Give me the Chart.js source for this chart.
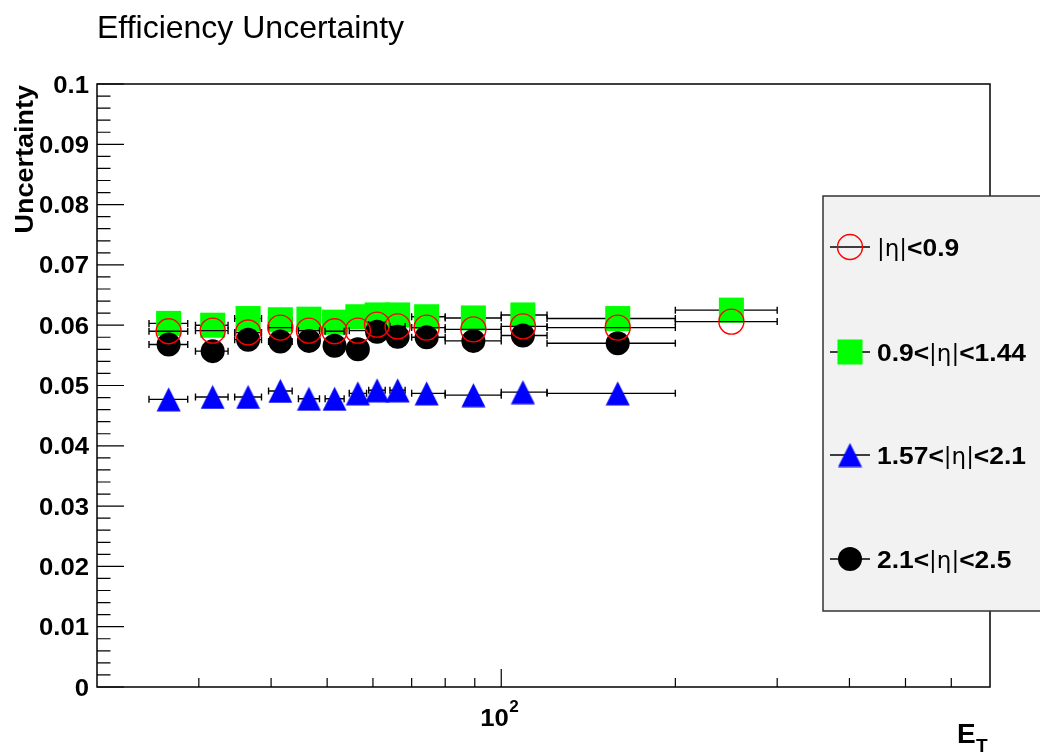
<!DOCTYPE html>
<html>
<head>
<meta charset="utf-8">
<title>Efficiency Uncertainty</title>
<script src="https://cdn.jsdelivr.net/npm/chart.js@4.4.0/dist/chart.umd.min.js"></script>
<style>
  html, body { margin: 0; padding: 0; background: #fff; }
  #wrap { width: 1040px; height: 755px; }
</style>
</head>
<body>
<div id="wrap"><canvas id="effChart" width="1040" height="755"></canvas></div>
<script>
// E_T bins: point position and the ends of the horizontal error bar
const etCenter = [26.6, 31.7, 36.5, 41.5, 46.5, 51.5, 56.5, 61, 66.2, 74.3, 89.5, 109, 159, 250];
const etLow    = [24.6, 29.6, 34.6, 39.6, 44.6, 49.6, 54.6, 59, 64.2, 70, 80, 100, 120, 200];
const etHigh   = [28.7, 33.7, 38.5, 43.5, 48.5, 53.5, 58.5, 63, 68.2, 80, 100, 120, 200, 300];

// efficiency uncertainty per eta region
const uncEtaLt09    = [0.0590, 0.0591, 0.0588, 0.0596, 0.0591, 0.0590, 0.0591, 0.0601, 0.0598, 0.0596, 0.0593, 0.0598, 0.0596, 0.0606];
const uncEta09to144 = [0.0603, 0.0600, 0.0611, 0.0609, 0.0610, 0.0605, 0.0614, 0.0617, 0.0617, 0.0614, 0.0612, 0.0617, 0.0611, 0.0625];
const uncEta157to21 = [0.0477, 0.0481, 0.0481, 0.0491, 0.0478, 0.0478, 0.0487, 0.0492, 0.0492, 0.0487, 0.0484, 0.0489, 0.0487];
const uncEta21to25  = [0.0568, 0.0557, 0.0576, 0.0573, 0.0574, 0.0566, 0.0560, 0.0589, 0.0581, 0.0580, 0.0574, 0.0583, 0.0570];

const seriesLabels = ['|η|<0.9', '0.9<|η|<1.44', '1.57<|η|<2.1', '2.1<|η|<2.5'];

// axis ticks
const xTickValues = [30, 40, 50, 60, 70, 80, 90, 100, 200, 300, 400, 500, 600];
const xMajorTicks = [100];
const yMajorLabels = ['0', '0.01', '0.02', '0.03', '0.04', '0.05', '0.06', '0.07', '0.08', '0.09', '0.1'];

const BOLD = '"Liberation Sans", Arial, sans-serif';
const STRETCH = 1.07;

// blue ROOT-style triangle marker
const triangleMarker = (() => {
  const c = document.createElement('canvas');
  c.width = 25; c.height = 25;
  const g = c.getContext('2d');
  g.fillStyle = '#0000ff';
  g.beginPath();
  g.moveTo(12.5, 0.5);
  g.lineTo(24.5, 24.5);
  g.lineTo(0.5, 24.5);
  g.closePath();
  g.fill();
  return c;
})();

function toPoints(values) {
  return values.map((v, i) => ({ x: etCenter[i], y: v, xMin: etLow[i], xMax: etHigh[i] }));
}

function drawStretched(ctx, text, x, y, font, align, sx) {
  ctx.save();
  ctx.font = font;
  ctx.translate(x, y);
  ctx.scale(sx, 1);
  ctx.textAlign = align;
  ctx.textBaseline = 'alphabetic';
  ctx.fillText(text, 0, 0);
  ctx.restore();
}

function drawMarker(ctx, ds, x, y) {
  const st = ds.pointStyle;
  const r = ds.pointRadius;
  ctx.save();
  if (st instanceof HTMLCanvasElement) {
    ctx.drawImage(st, x - st.width / 2, y - st.height / 2);
  } else if (st === 'rect') {
    const s = r * Math.SQRT1_2;
    ctx.fillStyle = ds.pointBackgroundColor;
    ctx.fillRect(x - s, y - s, 2 * s, 2 * s);
  } else {
    ctx.beginPath();
    ctx.arc(x, y, r, 0, Math.PI * 2);
    if (ds.pointBackgroundColor !== 'transparent') {
      ctx.fillStyle = ds.pointBackgroundColor;
      ctx.fill();
    }
    if (ds.pointBorderWidth > 0) {
      ctx.lineWidth = ds.pointBorderWidth;
      ctx.strokeStyle = ds.pointBorderColor;
      ctx.stroke();
    }
  }
  ctx.restore();
}

const rootStyle = {
  id: 'rootStyle',
  beforeDraw(chart) {
    const ctx = chart.ctx;
    ctx.save();
    ctx.fillStyle = '#fff';
    ctx.fillRect(0, 0, chart.width, chart.height);
    ctx.restore();
  },
  // horizontal error bars, drawn under each graph's markers
  beforeDatasetDraw(chart, args) {
    const ctx = chart.ctx;
    const xs = chart.scales.x;
    const ds = chart.data.datasets[args.index];
    ctx.save();
    ctx.strokeStyle = '#000';
    ctx.lineWidth = 1.4;
    args.meta.data.forEach((el, i) => {
      const p = ds.data[i];
      const x0 = xs.getPixelForValue(p.xMin);
      const x1 = xs.getPixelForValue(p.xMax);
      const y = el.y;
      ctx.beginPath();
      ctx.moveTo(x0, y); ctx.lineTo(x1, y);
      ctx.moveTo(x0, y - 3.5); ctx.lineTo(x0, y + 3.5);
      ctx.moveTo(x1, y - 3.5); ctx.lineTo(x1, y + 3.5);
      ctx.stroke();
    });
    ctx.restore();
  },
  afterDatasetsDraw(chart) {
    const ctx = chart.ctx;
    const a = chart.chartArea;
    const xs = chart.scales.x;
    const ys = chart.scales.y;
    ctx.save();
    ctx.strokeStyle = '#000';
    ctx.lineWidth = 1.5;
    ctx.strokeRect(a.left, a.top, a.right - a.left, a.bottom - a.top);
    ctx.lineWidth = 1.2;
    ctx.beginPath();
    xs.ticks.forEach(t => {
      const px = xs.getPixelForValue(t.value);
      const len = xMajorTicks.includes(t.value) ? 18 : 9;
      ctx.moveTo(px, a.bottom);
      ctx.lineTo(px, a.bottom - len);
    });
    ys.ticks.forEach(t => {
      const py = ys.getPixelForValue(t.value);
      const major = Math.round(t.value * 1000) % 10 === 0;
      ctx.moveTo(a.left, py);
      ctx.lineTo(a.left + (major ? 27 : 13.5), py);
    });
    ctx.stroke();
    ctx.restore();
  },
  afterDraw(chart) {
    const ctx = chart.ctx;
    const a = chart.chartArea;
    const xs = chart.scales.x;
    const ys = chart.scales.y;
    ctx.save();
    ctx.fillStyle = '#000';

    // title
    ctx.font = '32px ' + BOLD;
    ctx.textAlign = 'left';
    ctx.fillText('Efficiency Uncertainty', 97, 38);

    // y tick labels
    yMajorLabels.forEach(lbl => {
      const py = ys.getPixelForValue(parseFloat(lbl));
      drawStretched(ctx, lbl, 89, py + 8.5, 'bold 24px ' + BOLD, 'right', STRETCH);
    });

    // x tick label 10^2
    const p100 = xs.getPixelForValue(100);
    drawStretched(ctx, '10', p100 - 21, 726, 'bold 24px ' + BOLD, 'left', STRETCH);
    drawStretched(ctx, '2', p100 + 8, 712, 'bold 16px ' + BOLD, 'left', STRETCH);

    // axis titles
    drawStretched(ctx, 'E', 957, 743, 'bold 28px ' + BOLD, 'left', 1.0);
    drawStretched(ctx, 'T', 976, 752, 'bold 19px ' + BOLD, 'left', 1.0);

    ctx.save();
    ctx.translate(33, a.top + 1);
    ctx.rotate(-Math.PI / 2);
    ctx.scale(1.08, 1);
    ctx.font = 'bold 25px ' + BOLD;
    ctx.textAlign = 'right';
    ctx.fillText('Uncertainty', 0, 0);
    ctx.restore();

    // legend box
    ctx.fillStyle = '#f2f2f2';
    ctx.fillRect(823, 196, 300, 415);
    ctx.strokeStyle = '#333';
    ctx.lineWidth = 1.5;
    ctx.strokeRect(823, 196, 300, 415);

    const rows = [247, 352, 455, 559];
    const byLabel = {};
    chart.data.datasets.forEach(ds => { byLabel[ds.label] = ds; });
    seriesLabels.forEach((lbl, k) => {
      const ds = byLabel[lbl];
      const y = rows[k];
      ctx.strokeStyle = '#000';
      ctx.lineWidth = 1.4;
      ctx.beginPath();
      ctx.moveTo(830, y); ctx.lineTo(870, y);
      ctx.stroke();
      drawMarker(ctx, ds, 850, y);

      let x = 877;
      ctx.fillStyle = '#000';
      lbl.split(/(\|η\|)/).forEach(part => {
        if (!part) return;
        const font = part === '|η|' ? '23px "DejaVu Sans", sans-serif' : 'bold 24px ' + BOLD;
        const sx = part === '|η|' ? 1.0 : 1.1;
        ctx.font = font;
        const w = ctx.measureText(part).width * sx;
        drawStretched(ctx, part, x, y + 8.6, font, 'left', sx);
        x += w;
      });
    });
    ctx.restore();
  }
};

const datasets = [
  {
    label: seriesLabels[0],
    data: toPoints(uncEtaLt09),
    pointStyle: 'circle',
    pointRadius: 12.5,
    pointBackgroundColor: 'transparent',
    pointBorderColor: '#ff0000',
    pointBorderWidth: 1.4,
    order: 1
  },
  {
    label: seriesLabels[1],
    data: toPoints(uncEta09to144),
    pointStyle: 'rect',
    pointRadius: 17.7,
    pointBackgroundColor: '#00ff00',
    pointBorderColor: '#00ff00',
    pointBorderWidth: 0,
    order: 4
  },
  {
    label: seriesLabels[2],
    data: toPoints(uncEta157to21),
    pointStyle: triangleMarker,
    pointRadius: 12,
    pointBackgroundColor: '#0000ff',
    pointBorderColor: '#0000ff',
    pointBorderWidth: 0,
    order: 3
  },
  {
    label: seriesLabels[3],
    data: toPoints(uncEta21to25),
    pointStyle: 'circle',
    pointRadius: 12,
    pointBackgroundColor: '#000000',
    pointBorderColor: '#000000',
    pointBorderWidth: 0,
    order: 2
  }
];

new Chart(document.getElementById('effChart'), {
  type: 'scatter',
  data: { datasets: datasets },
  options: {
    responsive: false,
    animation: false,
    events: [],
    layout: { padding: { top: 84, right: 50, left: 0, bottom: 0 } },
    plugins: {
      legend: { display: false },
      tooltip: { enabled: false },
      title: { display: false }
    },
    scales: {
      x: {
        type: 'logarithmic',
        min: 20,
        max: 700,
        grid: { display: false },
        border: { display: false },
        ticks: { display: false },
        afterBuildTicks: s => { s.ticks = xTickValues.map(v => ({ value: v })); },
        afterFit: s => { s.height = 68; }
      },
      y: {
        type: 'linear',
        min: 0,
        max: 0.1,
        grid: { display: false },
        border: { display: false },
        ticks: { display: false },
        afterBuildTicks: s => {
          const t = [];
          for (let i = 0; i <= 50; i++) t.push({ value: i * 0.002 });
          s.ticks = t;
        },
        afterFit: s => { s.width = 97; }
      }
    }
  },
  plugins: [rootStyle]
});
</script>
</body>
</html>
